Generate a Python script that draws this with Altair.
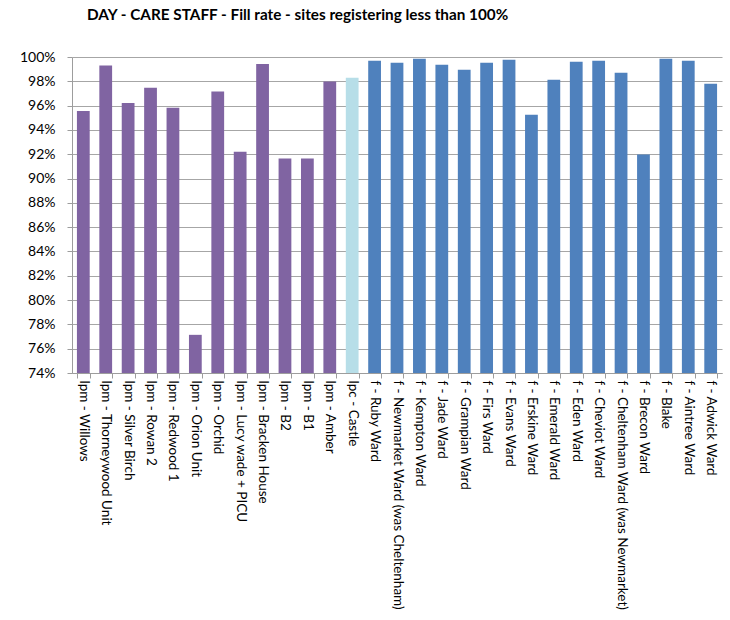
import altair as alt
import pandas as pd

categories = [
    "lpm - Willows", "lpm - Thorneywood Unit", "lpm - Silver Birch", "lpm - Rowan 2",
    "lpm - Redwood 1", "lpm - Orion Unit", "lpm - Orchid", "lpm - Lucy wade + PICU",
    "lpm - Bracken House", "lpm - B2", "lpm - B1", "lpm - Amber", "lpc - Castle",
    "f - Ruby Ward", "f - Newmarket Ward (was Cheltenham)", "f - Kempton Ward",
    "f - Jade Ward", "f - Grampian Ward", "f - Firs Ward", "f - Evans Ward",
    "f - Erskine Ward", "f - Emerald Ward", "f - Eden Ward", "f - Cheviot Ward",
    "f - Cheltenham Ward (was Newmarket)", "f - Brecon Ward", "f - Blake",
    "f - Aintree Ward", "f - Adwick Ward",
]
values = [
    0.9556, 0.9931, 0.9621, 0.9747, 0.9583, 0.7714, 0.9717, 0.9220,
    0.9942, 0.9165, 0.9165, 0.9799, 0.9830,
    0.9970, 0.9953, 0.9986, 0.9937, 0.9895, 0.9953, 0.9978,
    0.9525, 0.9813, 0.9961, 0.9970, 0.9871, 0.9198, 0.9986, 0.9970, 0.9780,
]
groups = ["lpm"] * 12 + ["lpc"] + ["f"] * 16
group_names = ["lpm", "lpc", "f"]
group_colors = ["#8064A2", "#B7DEE8", "#4F81BD"]
y_ticks = [0.74 + 0.02 * i for i in range(14)]

df = pd.DataFrame({"site": categories, "rate": values, "group": groups})
df["base"] = 0.74

font = "Lato"

chart = alt.Chart(df).mark_bar(clip=True).encode(
    x=alt.X("site:N", sort=None, title=None,
            scale=alt.Scale(paddingInner=0.43, paddingOuter=0.22),
            axis=alt.Axis(labelAngle=90, labelAlign="left", labelBaseline="middle",
                          labelFontSize=13.5, labelFont=font, labelColor="#000000",
                          labelPadding=2, tickBand="extent", tickSize=5,
                          tickColor="#9d9d9d", domainColor="#9d9d9d",
                          labelLimit=300, grid=False)),
    y=alt.Y("rate:Q", title=None,
            scale=alt.Scale(domain=[0.74, 1.0], zero=False, nice=False),
            axis=alt.Axis(values=y_ticks, format=".0%", labelFontSize=14,
                          labelFont=font, labelColor="#000000", labelPadding=12,
                          labelAlign="right",
                          tickSize=5, tickColor="#9d9d9d", domainColor="#9d9d9d",
                          gridColor="#a6a6a6", gridWidth=1.2)),
    y2="base:Q",
    color=alt.Color("group:N", scale=alt.Scale(domain=group_names, range=group_colors),
                    legend=None),
).properties(
    width=650, height=316,
    title=alt.Title("DAY  - CARE STAFF - Fill rate - sites registering less than 100%",
                    fontSize=15.3, font=font, fontWeight="bold", color="#000000",
                    anchor="start", frame="group", dx=15, offset=27),
    autosize=alt.AutoSizeParams(type="none"),
    padding={"left": 72, "top": 57, "right": 8, "bottom": 247},
).configure_view(stroke=None)

chart.save("out.html", embed_options={"renderer": "svg", "actions": False})
